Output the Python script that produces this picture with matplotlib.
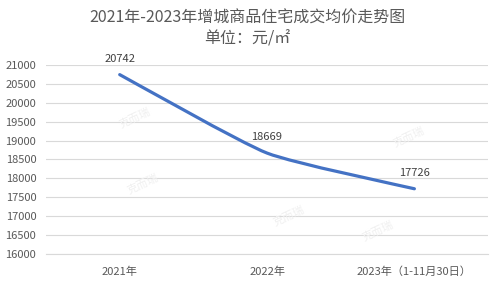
import numpy as np
import matplotlib
matplotlib.use('Agg')
import matplotlib.pyplot as plt
from matplotlib.path import Path
from matplotlib.patches import PathPatch

plt.rcParams['font.family'] = ['Noto Sans CJK SC', 'DejaVu Sans']

years = ['2021年', '2022年', '2023年（1-11月30日）']
prices = [20742, 18669, 17726]
y_ticks = list(range(16000, 21001, 500))

fig = plt.figure(figsize=(4.95, 2.82), dpi=100)
ax = fig.add_axes([0.093, 0.099, 0.893, 0.671])
ax.set_xlim(-0.5, 2.5)
ax.set_ylim(16000, 21000)

# smoothed line (light Catmull-Rom tension) computed in pixel space
x = np.arange(len(prices))
pts = ax.transData.transform(np.column_stack([x, prices]))
padded = np.vstack([pts[0], pts, pts[-1]])
k = 0.09
verts = [pts[0]]
codes = [Path.MOVETO]
for i in range(len(pts) - 1):
    p0, p1, p2, p3 = padded[i], padded[i + 1], padded[i + 2], padded[i + 3]
    c1 = p1 + (p2 - p0) * k
    c2 = p2 - (p3 - p1) * k
    verts += [c1, c2, p2]
    codes += [Path.CURVE4] * 3
verts = ax.transData.inverted().transform(np.array(verts))
ax.add_patch(PathPatch(Path(verts, codes), facecolor='none', edgecolor='#4472C4',
                       lw=2.3, capstyle='round', joinstyle='round', zorder=3))

for xi, v in zip(x, prices):
    ax.annotate(str(v), (xi, v), xytext=(0, 8), textcoords='offset points',
                ha='center', va='bottom', fontsize=8, color='#404040')

ax.set_yticks(y_ticks)
ax.set_yticklabels([str(t) for t in y_ticks])
ax.set_xticks(x)
ax.set_xticklabels(years)
ax.tick_params(axis='both', length=0, labelsize=8, labelcolor='#595959')
ax.tick_params(axis='y', pad=7)
ax.tick_params(axis='x', pad=9)
ax.grid(axis='y', color='#D9D9D9', lw=0.8)
ax.set_axisbelow(True)
for side in ['top', 'right', 'left']:
    ax.spines[side].set_visible(False)
ax.spines['bottom'].set_color('#D9D9D9')
ax.spines['bottom'].set_linewidth(0.8)

# faint watermarks
for wx, wy in [(0.2, 0.72), (0.22, 0.37), (0.55, 0.2), (0.82, 0.62), (0.75, 0.12)]:
    ax.text(wx, wy, '克而瑞', transform=ax.transAxes, rotation=25, fontsize=8,
            color='#F0F0F0', ha='center', va='center', zorder=1)

fig.text(0.5, 0.935, '2021年-2023年增城商品住宅成交均价走势图', ha='center', va='center',
         fontsize=11.5, color='#595959')
fig.text(0.5, 0.862, '单位：元/㎡', ha='center', va='center', fontsize=11.5, color='#595959')

fig.savefig('out.png', dpi=100, facecolor='white')
